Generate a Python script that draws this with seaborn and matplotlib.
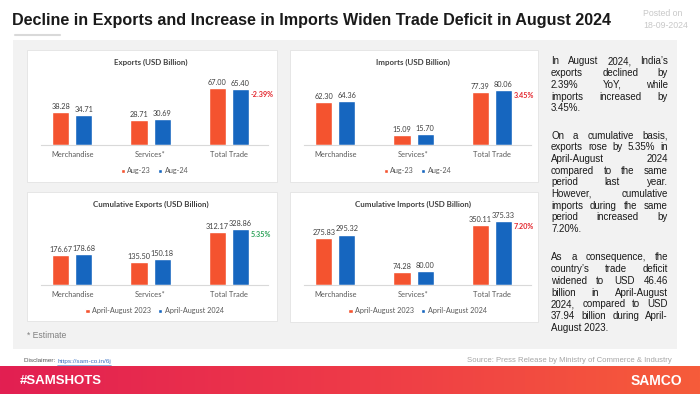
import numpy as np
import pandas as pd
import matplotlib
matplotlib.use("Agg")
import matplotlib.pyplot as plt
import seaborn as sns
from matplotlib.patches import Rectangle
from matplotlib.colors import LinearSegmentedColormap

# ---- data ----
categories = ["Merchandise", "Services*", "Total Trade"]
monthly_periods = ["Aug-23", "Aug-24"]
cumulative_periods = ["April-August 2023", "April-August 2024"]

exports_aug23 = [38.28, 28.71, 67.00]
exports_aug24 = [34.71, 30.69, 65.40]
imports_aug23 = [62.30, 15.09, 77.39]
imports_aug24 = [64.36, 15.70, 80.06]
cum_exports_2023 = [176.67, 135.50, 312.17]
cum_exports_2024 = [178.68, 150.18, 328.86]
cum_imports_2023 = [275.83, 74.28, 350.11]
cum_imports_2024 = [295.32, 80.00, 375.33]

change_labels = ["-2.39%", "3.45%", "5.35%", "7.20%"]

ORANGE = "#f4532f"
BLUE = "#1666bf"
W, H = 700, 394


def fx(x):
    return x / W


def fy(y):
    return 1 - y / H


def add_rect(x0, y0, x1, y1, **kw):
    # rectangle in picture pixels (origin top-left)
    fig.patches.append(Rectangle((fx(x0), fy(y1)), (x1 - x0) / W, (y1 - y0) / H,
                                 transform=fig.transFigure, **kw))


def px_axes(x0, y0, x1, y1):
    return fig.add_axes([fx(x0), fy(y1), (x1 - x0) / W, (y1 - y0) / H])


def make_frame(first, second, periods):
    rows = []
    for cat, a, b in zip(categories, first, second):
        rows.append({"category": cat, "period": periods[0], "value": a})
        rows.append({"category": cat, "period": periods[1], "value": b})
    return pd.DataFrame(rows)


sns.set_theme(style="white")
plt.rcParams["font.family"] = ["Lato", "DejaVu Sans"]

fig = plt.figure(figsize=(7, 3.94), dpi=100)
fig.patch.set_facecolor("white")

# header
fig.text(fx(12), fy(21), "Decline in Exports and Increase in Imports Widen Trade Deficit in August 2024",
         fontsize=11.6, fontweight="bold", color="#1a1a1a", family="Liberation Sans",
         ha="left", va="center")
fig.add_artist(plt.Line2D([fx(15), fx(60)], [fy(35), fy(35)], color="#d9d9d9", lw=1.5))
fig.text(fx(643), fy(13), "Posted on", fontsize=6.3, color="#c8c8c8", family="Liberation Sans",
         ha="left", va="center")
fig.text(fx(643), fy(25), "18-09-2024", fontsize=6.3, color="#c8c8c8", family="Liberation Sans",
         ha="left", va="center")

# grey panel
add_rect(13, 40, 677, 349, facecolor="#f2f2f2", edgecolor="none", zorder=-3)

charts = [
    ("Exports (USD Billion)", exports_aug23, exports_aug24, monthly_periods,
     (27, 50, 277, 182), 82, change_labels[0], "#e3262d"),
    ("Imports (USD Billion)", imports_aug23, imports_aug24, monthly_periods,
     (290, 50, 538, 182), 102, change_labels[1], "#e3262d"),
    ("Cumulative Exports (USD Billion)", cum_exports_2023, cum_exports_2024, cumulative_periods,
     (27, 192, 277, 321), 410, change_labels[2], "#2ea35a"),
    ("Cumulative Imports (USD Billion)", cum_imports_2023, cum_imports_2024, cumulative_periods,
     (290, 192, 538, 322), 410, change_labels[3], "#e3262d"),
]

for title, first, second, periods, box, ymax, change, change_color in charts:
    bx0, by0, bx1, by1 = box
    add_rect(bx0, by0, bx1, by1, facecolor="white", edgecolor="#e3e3e3", lw=0.6, zorder=-1)
    fig.text(fx((bx0 + bx1) / 2 - 1), fy(by0 + 12.5), title, fontsize=5.7, fontweight="bold",
             color="#404040", ha="center", va="center")

    base = by0 + 95 if by0 < 100 else by0 + 93
    ax = px_axes(bx0 + 14, base - 70, bx0 + 241, base)
    df = make_frame(first, second, periods)
    sns.barplot(data=df, x="category", y="value", hue="period", palette=[ORANGE, BLUE],
                saturation=1, width=0.59, gap=0.26, ax=ax, errorbar=None)

    # value labels
    for cont in ax.containers:
        ax.bar_label(cont, fmt="%.2f", padding=1.5, fontsize=5.3, color="#404040")

    # percent change next to Total Trade
    blue_bar = ax.containers[1][2]
    ax.annotate(change, xy=(blue_bar.get_x() + blue_bar.get_width(), blue_bar.get_height()),
                xytext=(1.5, -4), textcoords="offset points", ha="left", va="center",
                fontsize=5.2, fontweight="bold", color=change_color)

    ax.set_xlim(-0.4, 2.5)
    ax.set_ylim(0, ymax)
    ax.set_xlabel("")
    ax.set_ylabel("")
    ax.set_yticks([])
    ax.patch.set_visible(False)
    for side in ["left", "top", "right"]:
        ax.spines[side].set_visible(False)
    ax.spines["bottom"].set_color("#d9d9d9")
    ax.spines["bottom"].set_linewidth(0.8)
    ax.tick_params(axis="x", length=0, pad=4, labelsize=5.4, labelcolor="#595959")

    sns.move_legend(ax, "center", bbox_to_anchor=(0.5, -0.37), ncol=2, frameon=False,
                    title=None, fontsize=5.2, handlelength=0.6, handleheight=0.6,
                    handletextpad=0.3, columnspacing=1.0, labelcolor="#595959")

fig.text(fx(27), fy(335), "* Estimate", fontsize=6.2, color="#808080", family="Liberation Sans",
         ha="left", va="center")

# commentary on the right, justified by hand
paragraphs = [
    ["In August 2024, India\u2019s", "exports declined by", "2.39% YoY, while",
     "imports increased by", "3.45%."],
    ["On a cumulative basis,", "exports rose by 5.35% in", "April-August 2024",
     "compared to the same", "period last year.", "However, cumulative",
     "imports during the same", "period increased by", "7.20%."],
    ["As a consequence, the", "country\u2019s trade deficit", "widened to USD 46.46",
     "billion in April-August", "2024, compared to USD", "37.94 billion during April-",
     "August 2023."],
]
para_top = [61, 135, 257]
line_gap = 11.7
text_left, text_right = 551, 668
body = dict(fontsize=7, color="#1a1a1a", family="Liberation Sans", va="baseline")

renderer = fig.canvas.get_renderer()
for para, y0 in zip(paragraphs, para_top):
    for i, line in enumerate(para):
        y = y0 + i * line_gap + 3.5
        words = line.split()
        if i == len(para) - 1 or len(words) == 1:
            fig.text(fx(text_left), fy(y), line, ha="left", **body)
            continue
        widths = []
        for w in words:
            t = fig.text(0, 0, w, ha="left", **body)
            widths.append(t.get_window_extent(renderer).width)
            t.remove()
        space = (text_right - text_left - sum(widths)) / (len(words) - 1)
        x = text_left
        for w, wd in zip(words, widths):
            fig.text(fx(x), fy(y), w, ha="left", **body)
            x += wd + space

# footer
disc = fig.text(fx(24), fy(361), "Disclaimer: ", fontsize=4.6, color="#555555",
                family="Liberation Sans", ha="left", va="center")
dw = disc.get_window_extent(renderer).width
url = fig.text(fx(24 + dw), fy(361), "https://sam-co.in/6j", fontsize=4.6, color="#3d74c4",
               family="Liberation Sans", ha="left", va="center")
uw = url.get_window_extent(renderer).width
fig.add_artist(plt.Line2D([fx(24 + dw), fx(24 + dw + uw)], [fy(364.5), fy(364.5)],
                          color="#3d74c4", lw=0.4))
fig.text(fx(672), fy(361), "Source: Press Release by Ministry of Commerce & Industry",
         fontsize=5.6, color="#a6a6a6", family="Liberation Sans", ha="right", va="center")

# gradient banner
ax_b = px_axes(0, 366, 700, 394)
cmap = LinearSegmentedColormap.from_list("banner", ["#e21f52", "#ee3a48", "#f65c3a"])
ax_b.imshow(np.linspace(0, 1, 256)[None, :], aspect="auto", cmap=cmap, extent=[0, 1, 0, 1])
ax_b.axis("off")
fig.text(fx(20), fy(381), "#SAMSHOTS", fontsize=9.5, fontweight="bold", color="white",
         family="Liberation Sans", ha="left", va="center")
fig.text(fx(682), fy(381), "SAMCO", fontsize=10, fontweight="bold", color="white",
         family="Liberation Sans", ha="right", va="center")

fig.savefig("out.png", dpi=100)
